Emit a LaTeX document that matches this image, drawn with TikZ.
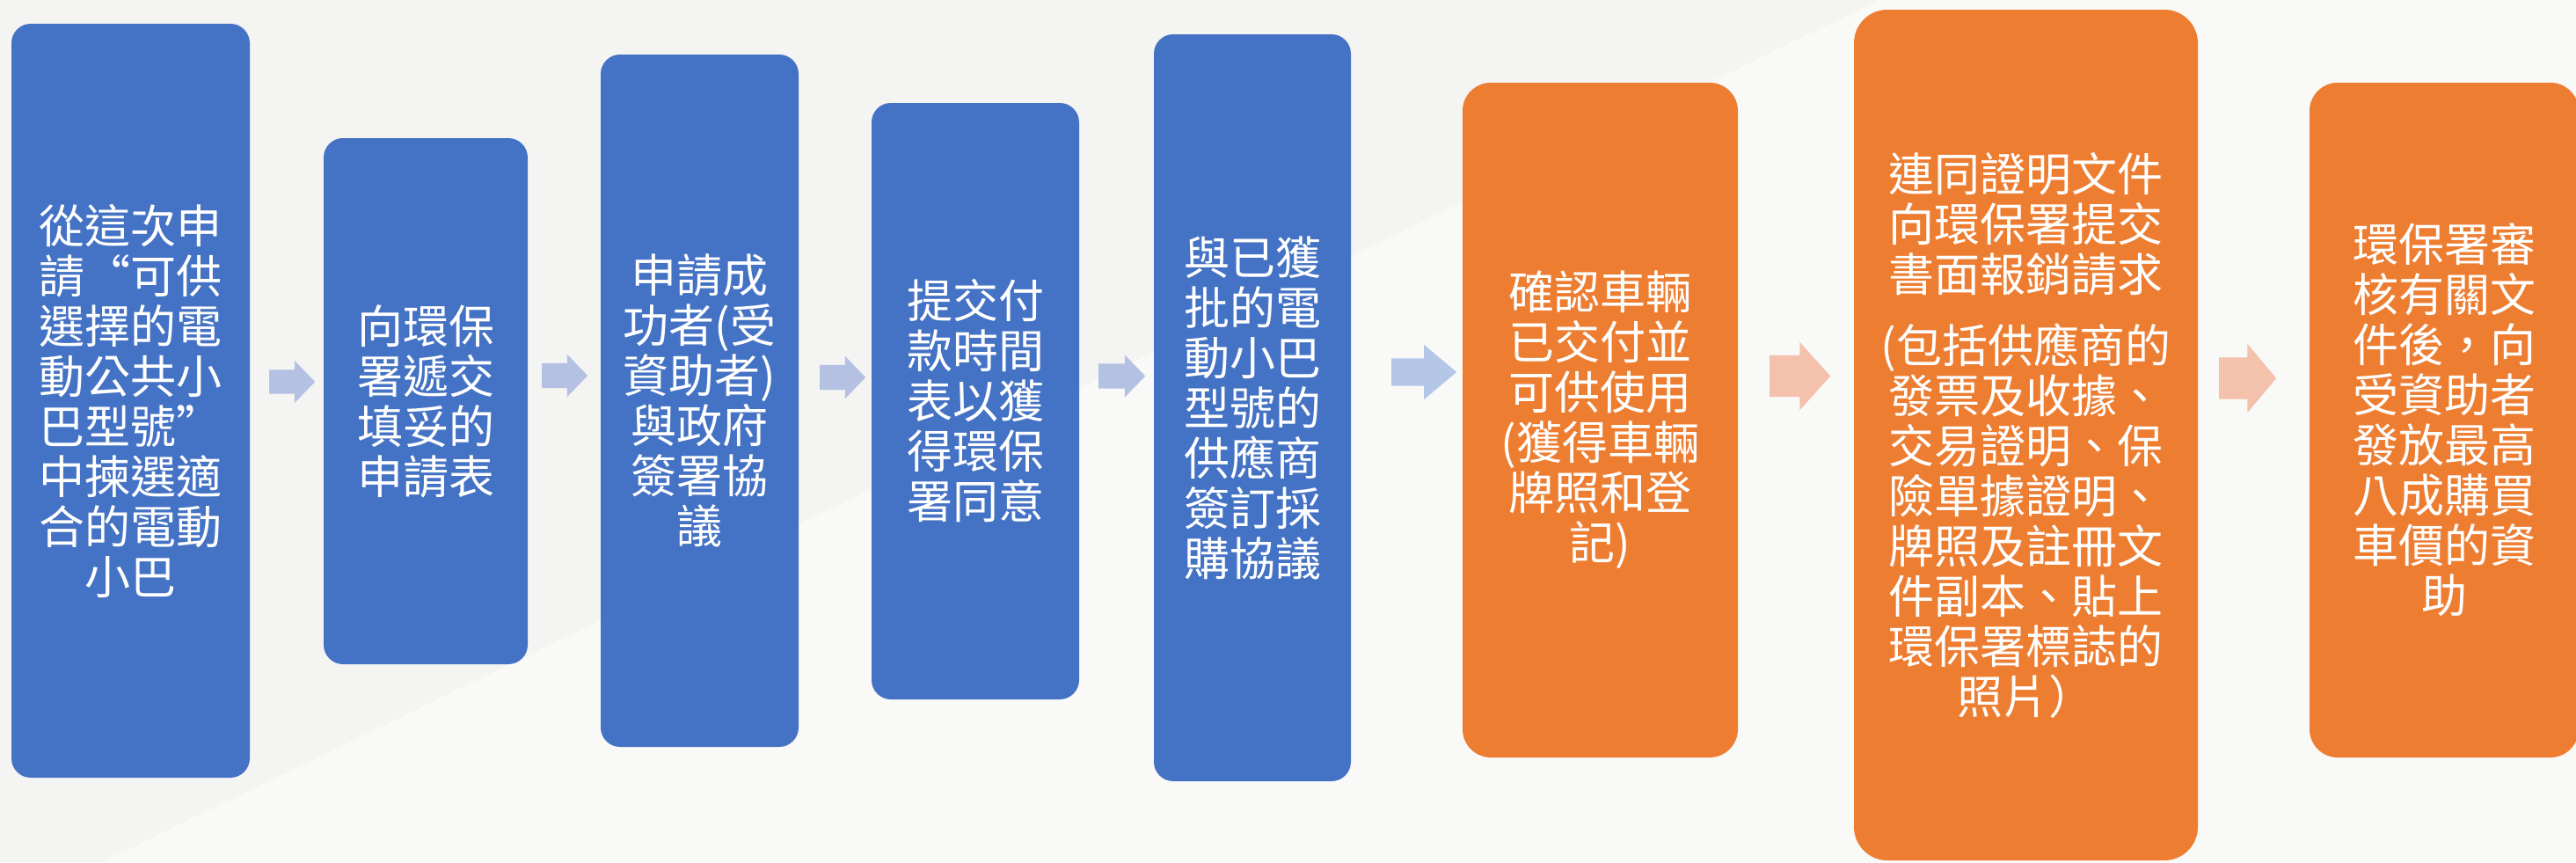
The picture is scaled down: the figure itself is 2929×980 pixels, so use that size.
\documentclass[tikz,border=0pt]{standalone}
\usepackage{fontspec}
\newfontfamily\cjk{Noto Sans CJK TC}
\usetikzlibrary{shapes.arrows}

\definecolor{stepblue}{HTML}{4472C4}
\definecolor{steporange}{HTML}{ED7D31}
\definecolor{arrowblue}{HTML}{B4C1E3}
\definecolor{arrowsky}{HTML}{B4C7E7}
\definecolor{arrowpeach}{HTML}{F4C1AC}
\definecolor{backgray}{HTML}{F4F4F3}
\definecolor{backlight}{HTML}{F9F9F8}

\begin{document}
\begin{tikzpicture}[x=1pt, y=-1pt,
	main/.style={rectangle, rounded corners=22pt, align=center, text=white, inner sep=0pt, font=\cjk\fontsize{52}{57}\selectfont},
	bluebox/.style={main, fill=stepblue},
	orangebox/.style={main, fill=steporange, rounded corners=32pt},
	flow/.style n args={4}{single arrow, anchor=tail, inner xsep=0pt, inner ysep=#2/2, minimum width=0pt, minimum height=#1, single arrow head extend=#3, single arrow tip angle=#4}
	]

	\useasboundingbox (0,0) rectangle (2929,980);
	\fill[backgray] (0,0) rectangle (2929,980);
	\fill[backlight] (116,980) -- (2137,0) -- (2929,0) -- (2929,980) -- cycle;

		\node (choose) [bluebox, minimum width=271pt, minimum height=857pt] at (148.5,455.5) {從這次申\\請“可供\\選擇的電\\動公共小\\巴型號”\\中揀選適\\合的電動\\小巴};
		\node (form) [bluebox, minimum width=232pt, minimum height=598pt] at (484,456) {向環保\\署遞交\\填妥的\\申請表};
		\node (agreement) [bluebox, minimum width=225pt, minimum height=787pt] at (795.5,455.5) {申請成\\功者(受\\資助者)\\與政府\\簽署協\\議};
		\node (schedule) [bluebox, minimum width=236pt, minimum height=678pt] at (1109,456) {提交付\\款時間\\表以獲\\得環保\\署同意};
		\node (purchase) [bluebox, minimum width=224pt, minimum height=849pt] at (1424,463.5) {與已獲\\批的電\\動小巴\\型號的\\供應商\\簽訂採\\購協議};
		\node (delivery) [orangebox, minimum width=313pt, minimum height=767pt] at (1819.5,477.5) {確認車輛\\已交付並\\可供使用\\(獲得車輛\\牌照和登\\記)};
		\node (claim) [orangebox, rounded corners=38pt, minimum width=391pt, minimum height=967pt] at (2303.5,494.5) {連同證明文件\\向環保署提交\\書面報銷請求\\[24pt](包括供應商的\\發票及收據、\\交易證明、保\\險單據證明、\\牌照及註冊文\\件副本、貼上\\環保署標誌的\\照片）};
		\node (subsidy) [orangebox, minimum width=306pt, minimum height=767pt] at (2779,477.5) {環保署審\\核有關文\\件後，向\\受資助者\\發放最高\\八成購買\\車價的資\\助};

	% arrows between the steps
	\node (flow1) [flow={52pt}{27pt}{10.5pt}{92}, fill=arrowblue] at (306,434) {};
	\node (flow2) [flow={52pt}{28pt}{10pt}{92}, fill=arrowblue] at (616,427) {};
	\node (flow3) [flow={52pt}{28pt}{10pt}{92}, fill=arrowblue] at (932,429) {};
	\node (flow4) [flow={53pt}{28pt}{10pt}{92}, fill=arrowblue] at (1249,427.5) {};
	\node (flow5) [flow={74pt}{31pt}{15.5pt}{80}, fill=arrowsky] at (1582,423) {};
	\node (flow6) [flow={69pt}{47pt}{15pt}{96}, fill=arrowpeach] at (2012,427.5) {};
	\node (flow7) [flow={65pt}{47pt}{15.5pt}{100}, fill=arrowpeach] at (2523,430) {};

\end{tikzpicture}
\end{document}
